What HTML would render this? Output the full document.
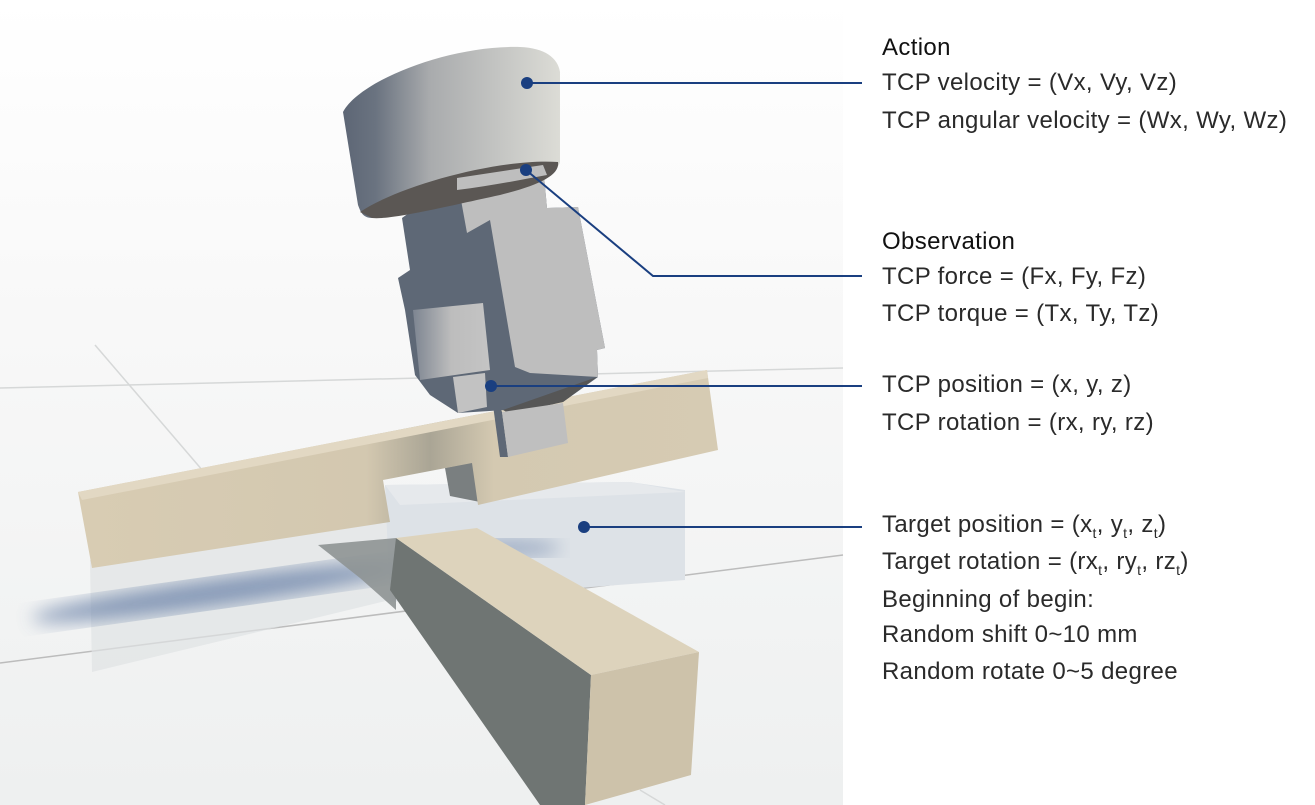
<!DOCTYPE html>
<html><head><meta charset="utf-8"><style>
html,body{margin:0;padding:0;background:#fff;}
body{width:1315px;height:805px;position:relative;overflow:hidden;font-family:"Liberation Sans",sans-serif;}
.t{position:absolute;left:882px;font-size:24px;letter-spacing:0.35px;color:#2a2a2a;white-space:nowrap;line-height:30px;}
.t sub{font-size:14px;vertical-align:-6px;line-height:0;}
</style></head><body>
<svg width="1315" height="805" style="position:absolute;left:0;top:0">
<defs>
<linearGradient id="bg" x1="0" y1="0" x2="0" y2="1">
<stop offset="0" stop-color="#ffffff"/><stop offset="0.4" stop-color="#f8f8f8"/><stop offset="1" stop-color="#eef0f0"/></linearGradient>
<linearGradient id="cyl" x1="343" y1="0" x2="560" y2="0" gradientUnits="userSpaceOnUse">
<stop offset="0" stop-color="#5d6675"/><stop offset="0.15" stop-color="#6a7380"/><stop offset="0.4" stop-color="#a9abad"/><stop offset="1" stop-color="#dcdcd6"/></linearGradient>
<linearGradient id="pc" x1="0" y1="0" x2="1" y2="0"><stop offset="0" stop-color="#7d8591"/><stop offset="0.5" stop-color="#bdbdbd"/><stop offset="1" stop-color="#c4c4c4"/></linearGradient>
<linearGradient id="wood" x1="0" y1="0" x2="1" y2="0"><stop offset="0" stop-color="#d8ccb3"/><stop offset="0.45" stop-color="#d3c8b0"/><stop offset="0.55" stop-color="#aaa595"/><stop offset="0.65" stop-color="#d4c9b1"/><stop offset="1" stop-color="#d6cbb3"/></linearGradient>
<filter id="bl"><feGaussianBlur stdDeviation="9"/></filter>
</defs>
<rect x="0" y="0" width="843" height="805" fill="url(#bg)"/>
<g stroke="#d6d8d8" stroke-width="1.5" fill="none">
<line x1="0" y1="388" x2="843" y2="368"/>
<line x1="0" y1="663" x2="843" y2="555" stroke="#bcbcbc"/>
<line x1="95" y1="345" x2="245" y2="520"/>
<line x1="640" y1="790" x2="665" y2="805"/>
</g>
<!-- ghost target -->
<polygon points="90,560 390,520 390,600 92,672" fill="#dfe2e4" opacity="0.7"/>
<polygon points="385,485 630,482 685,490 685,580 390,602" fill="#dde2e7"/>
<polygon points="385,485 630,482 685,492 400,505" fill="#e6e9ec"/>
<!-- shadows -->
<ellipse cx="220" cy="592" rx="190" ry="14" fill="#6f86ab" filter="url(#bl)" transform="rotate(-8 220 592)" opacity="0.8"/>
<ellipse cx="510" cy="548" rx="50" ry="8" fill="#7a8fb0" filter="url(#bl)" opacity="0.7"/>
<!-- stem below bar -->
<polygon points="445,468 474,462 480,502 450,496" fill="#7a7f80"/>
<!-- upper wood bar -->
<polygon points="78,492 707,370 718,450 478,505 472,463 383,480 390,522 92,568" fill="url(#wood)"/>
<polygon points="78,492 707,370 708,378 82,500" fill="#e2d8c3"/>
<!-- lower wood bar -->
<polygon points="318,545 396,538 396,610 360,578" fill="#8e9494" opacity="0.9"/>
<polygon points="396,538 591,675 585,805 540,805 390,590" fill="#6f7573"/>
<polygon points="396,538 477,528 699,652 591,675" fill="#ddd3bc"/>
<polygon points="591,675 699,652 691,775 585,805" fill="#cdc2aa"/>
<!-- gripper body -->
<polygon points="402,218 457,178 543,165 547,208 578,207 605,348 597,350 598,377 563,402 505,410 458,413 430,395 415,375 405,310 398,278 410,270" fill="#5e6876"/>
<polygon points="413,310 483,303 490,370 420,380" fill="url(#pc)"/>
<polygon points="457,178 543,165 547,208 578,207 605,348 597,350 598,377 530,373 515,367 490,220 467,233" fill="#bebebe"/>
<polygon points="503,410 597,377 563,402 510,414" fill="#565656"/>
<polygon points="453,377 485,373 487,407 458,413" fill="#c2c2c2"/>
<polygon points="490,383 502,412 508,457 500,457" fill="#5e6876"/>
<polygon points="502,412 563,403 568,443 508,457" fill="#bfbfbf"/>
<!-- cylinder -->
<path d="M343,112 C360,80 450,45 520,47 C545,48 558,58 560,72 L560,162 C555,185 450,205 372,218 C362,218 360,210 358,205 Z" fill="url(#cyl)"/>
<path d="M360,212 C400,185 500,158 558,162 C560,175 540,185 500,195 C440,208 390,220 372,218 Z" fill="#5b5754"/>
<path d="M457,178 L543,165 L547,175 C520,180 490,186 457,190 Z" fill="#bebebe"/>
<!-- connectors -->
<g stroke="#1a3f80" stroke-width="2" fill="none">
<line x1="527" y1="83" x2="862" y2="83"/>
<polyline points="526,170 653,276 862,276"/>
<line x1="491" y1="386" x2="862" y2="386"/>
<line x1="584" y1="527" x2="862" y2="527"/>
</g>
<g fill="#1a3f80">
<circle cx="527" cy="83" r="6"/><circle cx="526" cy="170" r="6"/>
<circle cx="491" cy="386" r="6"/><circle cx="584" cy="527" r="6"/>
</g>
</svg>
<div class="t" style="top:33px;color:#111">Action</div>
<div class="t" style="top:68px">TCP velocity = (Vx, Vy, Vz)</div>
<div class="t" style="top:106px">TCP angular velocity = (Wx, Wy, Wz)</div>
<div class="t" style="top:227px;color:#111">Observation</div>
<div class="t" style="top:262px">TCP force = (Fx, Fy, Fz)</div>
<div class="t" style="top:299px">TCP torque = (Tx, Ty, Tz)</div>
<div class="t" style="top:370px">TCP position = (x, y, z)</div>
<div class="t" style="top:408px">TCP rotation = (rx, ry, rz)</div>
<div class="t" style="top:510px">Target position = (x<sub>t</sub>, y<sub>t</sub>, z<sub>t</sub>)</div>
<div class="t" style="top:547px">Target rotation = (rx<sub>t</sub>, ry<sub>t</sub>, rz<sub>t</sub>)</div>
<div class="t" style="top:585px">Beginning of begin:</div>
<div class="t" style="top:620px">Random shift 0~10 mm</div>
<div class="t" style="top:657px">Random rotate 0~5 degree</div>
</body></html>
